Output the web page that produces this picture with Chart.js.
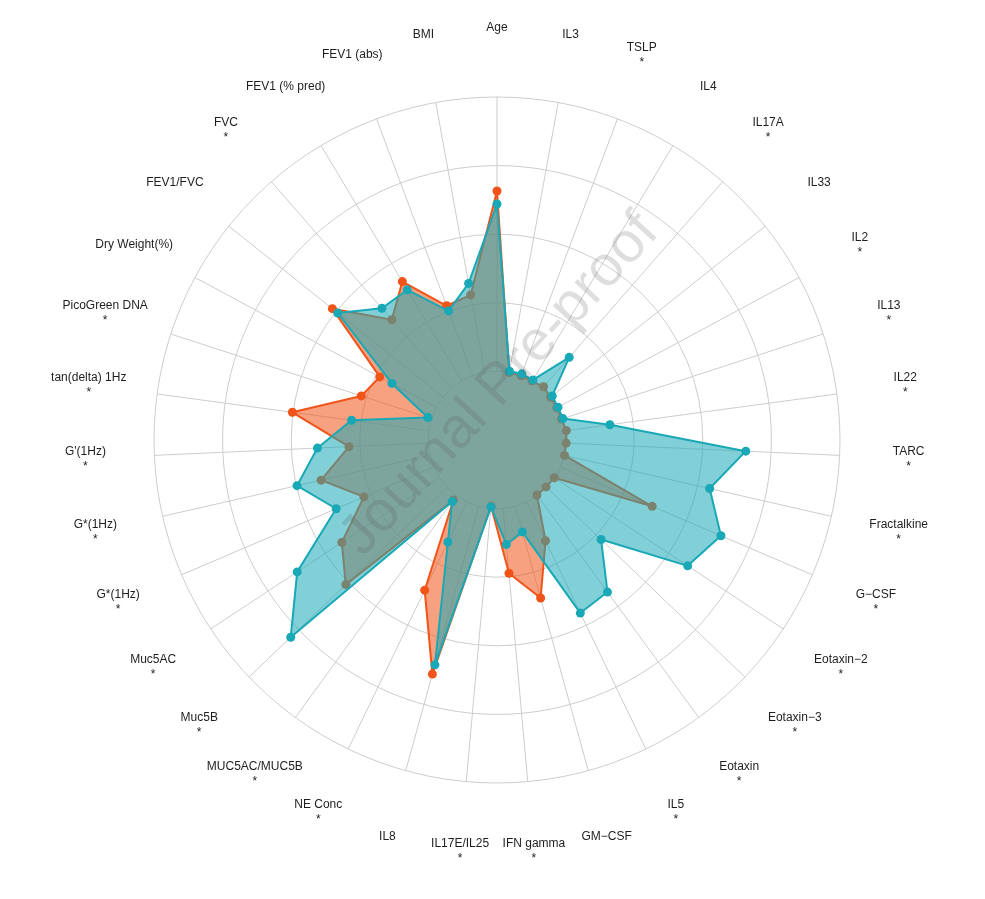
<!DOCTYPE html>
<html>
<head>
<meta charset="utf-8">
<script src="https://cdn.jsdelivr.net/npm/chart.js@4.4.1/dist/chart.umd.min.js"></script>
<style>
html,body{margin:0;padding:0;background:#ffffff;}
#wrap{width:985px;height:899px;position:relative;}
</style>
</head>
<body>
<div id="wrap"><canvas id="c"></canvas></div>
<script>
const axisLabels = ['Age','IL3','TSLP','IL4','IL17A','IL33','IL2','IL13','IL22','TARC','Fractalkine','G\u2212CSF','Eotaxin\u22122','Eotaxin\u22123','Eotaxin','IL5','GM\u2212CSF','IFN gamma','IL17E/IL25','IL8','NE Conc','MUC5AC/MUC5B','Muc5B','Muc5AC','G*(1Hz)','G*(1Hz)',"G'(1Hz)",'tan(delta) 1Hz','PicoGreen DNA','Dry Weight(%)','FEV1/FVC','FVC','FEV1 (% pred)','FEV1 (abs)','BMI'];
const significant = [0,0,1,0,1,0,1,1,1,1,1,1,1,1,1,1,0,1,1,0,1,1,1,1,1,1,1,1,1,0,0,1,0,0,0];
const tealValues = [3.44,1.02,1.03,1.02,1.60,1.03,1.01,1.01,1.66,3.63,3.18,3.55,3.33,2.10,2.74,2.80,1.39,1.53,0.98,3.40,1.65,1.11,4.16,3.49,2.55,2.99,2.62,2.14,1.06,1.74,2.97,2.55,2.55,2.01,2.32];
const orangeValues = [3.63,1.00,1.00,1.00,1.03,1.00,0.99,0.99,1.02,1.01,1.01,2.46,1.00,0.99,0.99,1.63,2.39,1.95,0.97,3.54,2.43,1.08,3.05,2.71,2.11,2.63,2.16,3.01,2.08,1.94,3.07,2.33,2.69,2.09,2.15];
const scaleMin = 0, scaleMax = 5, scaleStep = 1, innerRing = 1;
const watermarkText = 'Journal Pre-proof';

const TEAL = 'rgb(25,168,182)';
const TEAL_FILL = 'rgba(25,168,182,0.55)';
const ORANGE = 'rgb(241,84,24)';
const ORANGE_FILL = 'rgba(241,84,24,0.55)';

const radarDecor = {
  id: 'radarDecor',
  beforeDatasetsDraw(chart) {
    const s = chart.scales.r, ctx = chart.ctx;
    const r0 = s.getDistanceFromCenterForValue(innerRing);
    const r1 = s.getDistanceFromCenterForValue(scaleMax);
    ctx.save();
    ctx.strokeStyle = '#cdcdcd';
    ctx.lineWidth = 1;
    for (let i = 0; i < axisLabels.length; i++) {
      const a = s.getPointPosition(i, r0), b = s.getPointPosition(i, r1);
      ctx.beginPath(); ctx.moveTo(a.x, a.y); ctx.lineTo(b.x, b.y); ctx.stroke();
    }
    ctx.restore();
  },
  afterDraw(chart) {
    const s = chart.scales.r, ctx = chart.ctx;
    const rl = s.getDistanceFromCenterForValue(scaleMax) + 69;
    ctx.save();
    ctx.fillStyle = '#1e1e1e';
    ctx.font = '12px "Liberation Sans", Arial, sans-serif';
    ctx.textAlign = 'center';
    ctx.textBaseline = 'middle';
    for (let i = 0; i < axisLabels.length; i++) {
      const p = s.getPointPosition(i, rl);
      if (significant[i]) {
        ctx.fillText(axisLabels[i], p.x, p.y - 7);
        ctx.fillText('*', p.x, p.y + 8);
      } else {
        ctx.fillText(axisLabels[i], p.x, p.y);
      }
    }
    ctx.restore();
    // watermark
    ctx.save();
    ctx.translate(s.xCenter + 3, s.yCenter - 55);
    ctx.rotate(-47.5 * Math.PI / 180);
    ctx.font = '57px "Liberation Sans", Arial, sans-serif';
    ctx.textAlign = 'center';
    ctx.textBaseline = 'middle';
    ctx.fillStyle = 'rgba(90,90,90,0.2)';
    ctx.fillText(watermarkText, 0, 0);
    ctx.restore();
  }
};

new Chart(document.getElementById('c'), {
  type: 'radar',
  data: {
    labels: axisLabels,
    datasets: [
      {
        label: 'Group 2',
        data: tealValues,
        borderColor: TEAL,
        backgroundColor: TEAL_FILL,
        pointBackgroundColor: TEAL,
        pointBorderColor: TEAL,
        borderWidth: 2,
        pointRadius: 4.5,
        pointBorderWidth: 0,
        fill: 'origin',
        tension: 0
      },
      {
        label: 'Group 1',
        data: orangeValues,
        borderColor: ORANGE,
        backgroundColor: ORANGE_FILL,
        pointBackgroundColor: ORANGE,
        pointBorderColor: ORANGE,
        borderWidth: 2,
        pointRadius: 4.5,
        pointBorderWidth: 0,
        fill: 'origin',
        tension: 0
      }
    ]
  },
  options: {
    responsive: true,
    maintainAspectRatio: false,
    animation: false,
    layout: { padding: { left: 154, right: 145, top: 97, bottom: 116 } },
    plugins: { legend: { display: false }, tooltip: { enabled: false } },
    elements: { line: { borderJoinStyle: 'round' } },
    scales: {
      r: {
        min: scaleMin,
        max: scaleMax,
        ticks: { display: false, stepSize: scaleStep },
        grid: { circular: true, color: '#cdcdcd', lineWidth: 1 },
        angleLines: { display: false },
        pointLabels: { display: false }
      }
    }
  },
  plugins: [radarDecor]
});
</script>
</body>
</html>
